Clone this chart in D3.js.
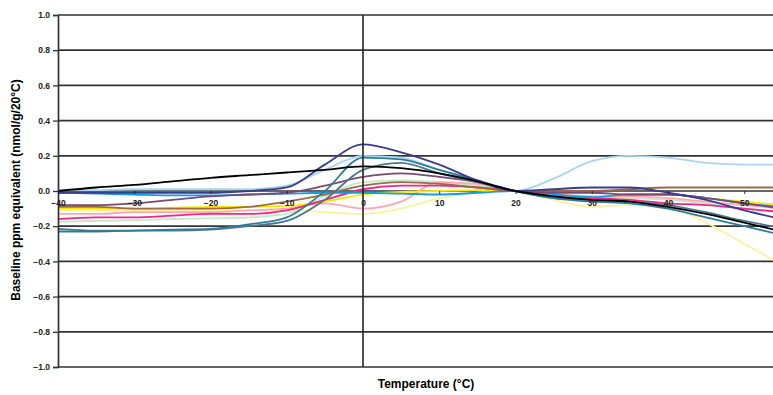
<!DOCTYPE html>
<html>
<head>
<meta charset="utf-8">
<script src="https://cdn.jsdelivr.net/npm/d3@7"></script>
<style>
  body { margin: 0; background: #fff; }
  svg { display: block; font-family: "Liberation Sans", Arial, sans-serif; }
</style>
</head>
<body>
<div id="chart"></div>
<script>
// temperatures (°C) the curves are sampled at
const temps = [-40, -35, -30, -25, -20, -15, -10, -5, 0, 5, 10, 15, 20, 25, 30, 35, 40, 45, 50, 55];

const xTicks = [-40, -30, -20, -10, 0, 10, 20, 30, 40, 50];
const yTicks = [1.0, 0.8, 0.6, 0.4, 0.2, 0.0, -0.2, -0.4, -0.6, -0.8, -1.0];

// one array per curve
const black      = [0.00, 0.02, 0.035, 0.055, 0.075, 0.09, 0.105, 0.12, 0.14, 0.13, 0.10, 0.055, 0, -0.03, -0.05, -0.06, -0.09, -0.13, -0.18, -0.23];
const navy       = [-0.01, -0.01, -0.01, -0.01, -0.01, 0.0, 0.02, 0.15, 0.265, 0.22, 0.15, 0.06, 0, 0.01, 0.02, 0.02, -0.01, -0.05, -0.11, -0.16];
const teal       = [-0.23, -0.23, -0.225, -0.22, -0.215, -0.19, -0.15, 0.0, 0.19, 0.18, 0.12, 0.06, 0, -0.04, -0.06, -0.07, -0.10, -0.15, -0.20, -0.25];
const steel      = [-0.215, -0.225, -0.225, -0.225, -0.22, -0.20, -0.17, -0.05, 0.12, 0.16, 0.10, 0.05, 0, -0.04, -0.05, -0.06, -0.08, -0.12, -0.17, -0.21];
const lightBlue  = [0.005, 0.005, 0.01, 0.01, 0.01, 0.01, 0.03, 0.12, 0.20, 0.19, 0.12, 0.06, 0, 0.07, 0.17, 0.20, 0.19, 0.16, 0.15, 0.15];
const blue       = [-0.01, -0.015, -0.02, -0.025, -0.025, -0.02, -0.015, -0.01, -0.01, -0.015, -0.02, -0.01, 0, -0.02, -0.035, -0.02, -0.02, -0.04, -0.07, -0.09];
const mauve      = [-0.08, -0.08, -0.07, -0.05, -0.03, -0.02, -0.01, 0.03, 0.08, 0.10, 0.08, 0.05, 0, -0.01, -0.01, -0.02, -0.02, -0.04, -0.07, -0.10];
const brown      = [-0.09, -0.09, -0.10, -0.10, -0.10, -0.09, -0.06, -0.02, 0.03, 0.05, 0.04, 0.02, 0, 0.0, 0.0, 0.01, 0.02, 0.02, 0.02, 0.02];
const yellow     = [-0.10, -0.10, -0.10, -0.095, -0.09, -0.09, -0.085, -0.06, -0.02, -0.005, 0.0, 0.005, 0, -0.03, -0.04, -0.02, -0.02, -0.04, -0.06, -0.08];
const paleYellow = [-0.11, -0.11, -0.11, -0.11, -0.11, -0.11, -0.11, -0.12, -0.13, -0.10, -0.04, -0.01, 0, -0.05, -0.09, -0.08, -0.09, -0.18, -0.30, -0.42];
const pink       = [-0.13, -0.13, -0.12, -0.12, -0.12, -0.11, -0.10, -0.07, -0.10, -0.06, 0.05, 0.04, 0, -0.02, -0.03, -0.03, -0.04, -0.06, -0.08, -0.10];
const magenta    = [-0.16, -0.15, -0.15, -0.14, -0.13, -0.13, -0.11, -0.05, 0.01, 0.03, 0.03, 0.02, 0, -0.03, -0.04, -0.05, -0.07, -0.08, -0.10, -0.12];
const lightGreen = [-0.175, -0.17, -0.165, -0.16, -0.155, -0.15, -0.13, -0.03, 0.05, 0.06, 0.05, 0.03, 0, -0.02, -0.03, -0.04, -0.05, -0.07, -0.10, -0.12];

const series = [
  {values: paleYellow, color: "#fff0a0"},
  {values: lightGreen, color: "#c6e6c6"},
  {values: pink, color: "#ffa8b0"},
  {values: lightBlue, color: "#a8d6f0"},
  {values: yellow, color: "#ffe600"},
  {values: magenta, color: "#f0248c"},
  {values: blue, color: "#109ee0"},
  {values: brown, color: "#9c6a48"},
  {values: mauve, color: "#7a4a72"},
  {values: steel, color: "#4a7890"},
  {values: teal, color: "#2e7d98"},
  {values: navy, color: "#3c3c8c"},
  {values: black, color: "#000000"}
];

const width = 773, height = 395;
const plotLeft = 58, plotTop = 15, plotBottom = 367;

const svg = d3.select("#chart").append("svg")
  .attr("width", width)
  .attr("height", height);

// x axis extends past the right edge of the picture
const x = d3.scaleLinear().domain([-40, 55]).range([plotLeft, plotLeft + 95 * 7.625]);
const y = d3.scaleLinear().domain([-1, 1]).range([plotBottom, plotTop]);

// horizontal grid lines
svg.append("g")
  .selectAll("line")
  .data(yTicks)
  .enter()
  .append("line")
  .attr("x1", plotLeft)
  .attr("x2", width)
  .attr("y1", d => y(d))
  .attr("y2", d => y(d))
  .attr("stroke", "#333")
  .attr("stroke-width", 1.7);

// curves
const line = d3.line()
  .x((d, i) => x(temps[i]))
  .y(d => y(d))
  .curve(d3.curveMonotoneX);

svg.append("g")
  .selectAll("path")
  .data(series)
  .enter()
  .append("path")
  .attr("d", d => line(d.values))
  .attr("fill", "none")
  .attr("stroke", d => d.color)
  .attr("stroke-width", 1.8);

// left axis with outward ticks
const yAxis = svg.append("g")
  .attr("transform", "translate(" + plotLeft + ",0)")
  .call(d3.axisLeft(y).tickValues(yTicks).tickSize(5).tickPadding(3).tickFormat(d3.format(".1f")));
yAxis.select(".domain").attr("stroke", "#333").attr("stroke-width", 1.7);
yAxis.selectAll(".tick line").attr("stroke", "#333").attr("stroke-width", 1.3);
yAxis.selectAll("text")
  .style("font-size", "8.5px")
  .style("font-weight", "bold")
  .attr("fill", "#222");

// vertical line at 0 °C
svg.append("line")
  .attr("x1", x(0))
  .attr("x2", x(0))
  .attr("y1", plotTop)
  .attr("y2", plotBottom)
  .attr("stroke", "#222")
  .attr("stroke-width", 1.6);

// x tick labels sit on the zero line
const xAxis = svg.append("g")
  .attr("transform", "translate(0," + y(0) + ")")
  .call(d3.axisBottom(x).tickValues(xTicks).tickSize(3).tickPadding(6));
xAxis.select(".domain").remove();
xAxis.selectAll(".tick line").attr("stroke", "#222");
xAxis.selectAll("text")
  .style("font-size", "8.5px")
  .style("font-weight", "bold")
  .attr("fill", "#222");

// axis titles
svg.append("text")
  .attr("x", 426)
  .attr("y", 388)
  .attr("text-anchor", "middle")
  .style("font-size", "12px")
  .style("font-weight", "bold")
  .text("Temperature (°C)");

svg.append("text")
  .attr("transform", "translate(20,190)rotate(-90)")
  .attr("text-anchor", "middle")
  .style("font-size", "12px")
  .style("font-weight", "bold")
  .text("Baseline ppm equivalent (nmol/g/20°C)");
</script>
</body>
</html>
